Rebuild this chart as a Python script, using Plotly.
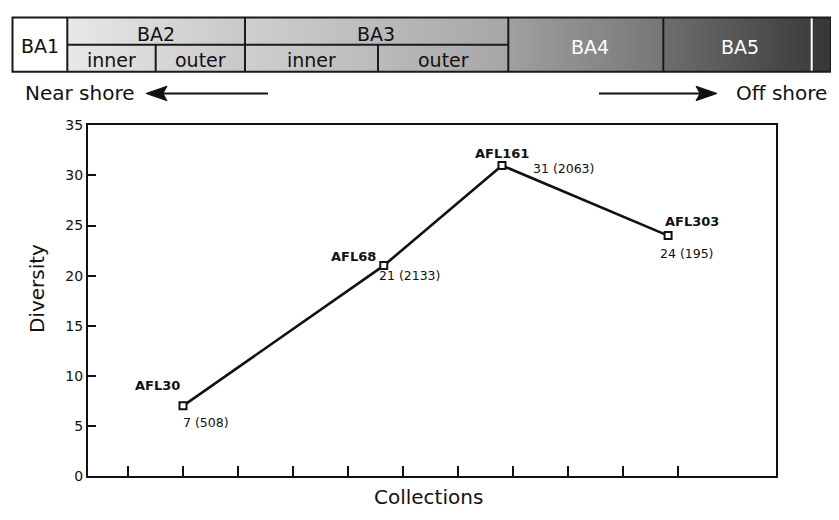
import plotly.graph_objects as go

# ---------------- data ----------------
collections = ["AFL30", "AFL68", "AFL161", "AFL303"]
position = [2.0, 5.65, 7.8, 10.82]          # location along the shore transect
diversity = [7, 21, 31, 24]
specimens = [508, 2133, 2063, 195]
y_ticks = [0, 5, 10, 15, 20, 25, 30, 35]
x_ticks = [1, 2, 3, 4, 5, 6, 7, 8, 9, 10, 11]

zone_labels = ["BA1", "BA2", "BA3", "BA4", "BA5"]
sub_labels = ["inner", "outer"]
y_title = "Diversity"
x_title = "Collections"
near_label = "Near shore"
off_label = "Off shore"

# ---------------- layout helpers ----------------
# The page body keeps the browser's default 8px margin, so the figure is
# sized to fill the 839x520 window exactly inside it.
PAGE_W, PAGE_H, BODY = 839, 520, 8
W, H = PAGE_W - 2 * BODY, PAGE_H - 2 * BODY
FONT = "DejaVu Sans"
INK = "#111111"

name_shift = [(-25, 20), (-30, 9.5), (0, 12), (24, 14.5)]
value_shift = [(23, -17), (26, -10), (62, -3), (19, -17.5)]

fig = go.Figure()

# band gradient fills (overlay subplot in page-pixel coordinates)
band_top, band_mid, band_bot = 9.5, 37.7, 65.5
edges = [12.5, 67.3, 245.0, 508.3, 663.3, 811.7, 831.0]
grad = [
    None,
    ("#e8e8e8", "#c8c8c8"),
    ("#cfcfcf", "#a6a6a6"),
    ("#a0a0a0", "#767676"),
    ("#6e6e6e", "#3e3e3e"),
    ("#383838", "#383838"),
]
for i, g in enumerate(grad):
    x0, x1 = edges[i], edges[i + 1]
    if g is None:
        continue
    fig.add_trace(go.Scatter(
        x=[x0, x1, x1, x0, x0], y=[band_top, band_top, band_bot, band_bot, band_top],
        xaxis="x2", yaxis="y2", mode="lines", line=dict(width=0),
        fill="toself",
        fillgradient=dict(type="horizontal", colorscale=[[0, g[0]], [1, g[1]]]),
        hoverinfo="skip", showlegend=False))

# main line
fig.add_trace(go.Scatter(
    x=position, y=diversity, mode="lines+markers",
    line=dict(color="#111111", width=2.6),
    marker=dict(symbol="square", size=7, color="white",
                line=dict(color="#111111", width=2)),
    text=collections, hoverinfo="text+y", showlegend=False))

shapes = []
LC = "#1a1a1a"
shapes.append(dict(type="rect", xref="x2", yref="y2", x0=edges[0], x1=edges[-1],
                   y0=band_top, y1=band_bot, line=dict(color=LC, width=2)))
shapes.append(dict(type="line", xref="x2", yref="y2", x0=edges[1], x1=edges[3],
                   y0=band_mid, y1=band_mid, line=dict(color=LC, width=2)))
for xv in [edges[1], edges[2], edges[3], edges[4]]:
    shapes.append(dict(type="line", xref="x2", yref="y2", x0=xv, x1=xv,
                       y0=band_top, y1=band_bot, line=dict(color=LC, width=2)))
for xv in [155.7, 378.0]:
    shapes.append(dict(type="line", xref="x2", yref="y2", x0=xv, x1=xv,
                       y0=band_mid, y1=band_bot, line=dict(color=LC, width=2)))
shapes.append(dict(type="line", xref="x2", yref="y2", x0=edges[5], x1=edges[5],
                   y0=band_top + 1, y1=band_bot - 1, line=dict(color="white", width=2)))
# arrows
ay = 88
shapes.append(dict(type="line", xref="x2", yref="y2", x0=268, x1=160, y0=ay, y1=ay,
                   line=dict(color=INK, width=2)))
shapes.append(dict(type="path", xref="x2", yref="y2",
                   path=f"M146,{ay} L167,{ay-7.5} L163,{ay} L167,{ay+7.5} Z",
                   fillcolor=INK, line=dict(color=INK, width=1)))
shapes.append(dict(type="line", xref="x2", yref="y2", x0=599, x1=703, y0=ay, y1=ay,
                   line=dict(color=INK, width=2)))
shapes.append(dict(type="path", xref="x2", yref="y2",
                   path=f"M717,{ay} L696,{ay-7.5} L700,{ay} L696,{ay+7.5} Z",
                   fillcolor=INK, line=dict(color=INK, width=1)))

ann = []
def txt(x, y, s, size, color=INK, bold=False, **kw):
    d = dict(x=x, y=y, xref="x2", yref="y2", text=s, showarrow=False,
             font=dict(family=FONT, size=size, color=color,
                       weight="bold" if bold else "normal"),
             xanchor="center", yanchor="middle")
    d.update(kw)
    ann.append(d)

# band texts
txt(40, 38.5, zone_labels[0], 19)
txt(156, 27, zone_labels[1], 19)
txt(376, 27, zone_labels[2], 19)
txt(590, 40, zone_labels[3], 19, color="white")
txt(740, 40, zone_labels[4], 19, color="white")
txt(111, 53, sub_labels[0], 19)
txt(200, 53, sub_labels[1], 19)
txt(311.5, 53, sub_labels[0], 19)
txt(443, 53, sub_labels[1], 19)
txt(80, 88, near_label, 20)
txt(781.5, 88, off_label, 20)

# axis titles
txt(37, 290, y_title, 20, textangle=-90)
txt(428, 505, x_title, 20)

# data labels
for i in range(len(collections)):
    ann.append(dict(x=position[i], y=diversity[i], xref="x", yref="y",
                    text=collections[i], showarrow=False,
                    xshift=name_shift[i][0], yshift=name_shift[i][1],
                    font=dict(family=FONT, size=13, color=INK, weight="bold")))
    ann.append(dict(x=position[i], y=diversity[i], xref="x", yref="y",
                    text=f"{diversity[i]} ({specimens[i]})", showarrow=False,
                    xshift=value_shift[i][0], yshift=value_shift[i][1],
                    font=dict(family=FONT, size=12.5, color=INK)))

# plot frame in page pixels
x0_px, x1_px = 88, 776
y0_px, y1_px = 483, 121
fig.update_layout(
    width=W, height=H,
    margin=dict(l=0, r=0, t=0, b=0, pad=0),
    paper_bgcolor="white", plot_bgcolor="rgba(0,0,0,0)",
    font=dict(family=FONT, color=INK),
    xaxis=dict(domain=[(x0_px - BODY) / W, (x1_px - BODY) / W], range=[0.273, 12.782],
               tickmode="array", tickvals=x_ticks, showticklabels=False,
               ticks="inside", ticklen=10, tickwidth=1.6, tickcolor=INK,
               showline=True, linewidth=2, linecolor=INK, mirror=True,
               showgrid=False, zeroline=False, anchor="y", fixedrange=True),
    yaxis=dict(domain=[1 - (y0_px - BODY) / H, 1 - (y1_px - BODY) / H], range=[0, 35],
               tickmode="array", tickvals=y_ticks,
               ticks="inside", ticklen=8, tickwidth=1.6, tickcolor=INK,
               tickfont=dict(family=FONT, size=14, color=INK),
               showline=True, linewidth=2, linecolor=INK, mirror=True,
               showgrid=False, zeroline=False, anchor="x", fixedrange=True),
    xaxis2=dict(domain=[0, 1], range=[BODY, BODY + W], visible=False,
                anchor="y2", fixedrange=True),
    yaxis2=dict(domain=[0, 1], range=[BODY + H, BODY], visible=False,
                anchor="x2", fixedrange=True),
    shapes=shapes, annotations=ann, showlegend=False,
)

fig.write_html("out.html", config={"displayModeBar": False})
